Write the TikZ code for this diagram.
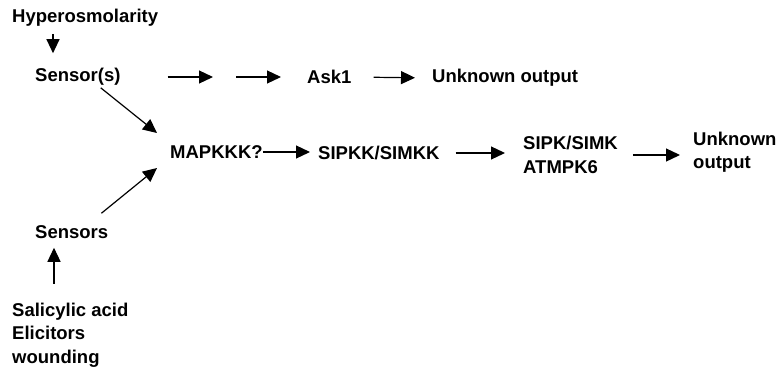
\documentclass[tikz,border=0pt]{standalone}
\usepackage{fontspec}
\setmainfont{Liberation Sans}
\usetikzlibrary{arrows.meta,calc}
\begin{document}
\begin{tikzpicture}[x=1pt,y=-1pt,
  lbl/.style={font=\bfseries\fontsize{18.5}{23.5}\selectfont, inner sep=0pt, anchor=west, align=left},
  arr/.style={line width=1.2pt, -{Triangle[length=14pt,width=13pt]}}]
\useasboundingbox (0,0) rectangle (783,375);
\fill[white] (0,0) rectangle (783,375);
% nodes
\node[lbl] (hyp) at (12,18) {Hyperosmolarity};
\node[lbl] (sen1) at (35,77) {Sensor(s)};
\node[lbl] (ask) at (307,77) {Ask1};
\node[lbl] (out1) at (432,78) {Unknown output};
\node[lbl] (map) at (170,152) {MAPKKK?};
\node[lbl] (sipkk) at (318,153) {SIPKK/SIMKK};
\node[lbl] (sipk) at (523,155) {SIPK/SIMK\\ATMPK6};
\node[lbl] (out2) at (693,152) {Unknown\\output};
\node[lbl] (sens) at (35,232) {Sensors};
\node[lbl] (sal) at (12,335) {Salicylic acid\\Elicitors\\wounding};
\coordinate (c1) at (213,77);
\coordinate (c2) at (236,77);
% connectors
\draw[arr] ($(hyp.south west)+(41,7)$) -- ($(sen1.north west)+(18,-15)$);
\draw[arr, shorten <=47pt] (sen1.east) -- (c1);
\draw[arr, shorten >=26pt] (c2) -- (ask.west);
\draw[arr, shorten <=22pt, shorten >=17pt] (ask.east) -- (out1.west);
\draw[arr] ($(sen1.south east)+(-20,2)$) -- ($(map.west)+(-13,-19)$);
\draw[arr] ($(sens.north east)+(-7,-12)$) -- ($(map.west)+(-13,16)$);
\draw[arr, shorten <=10pt] (sal.north west -| 54,0) ++(0,-9) -- ($(sens.south west -| 54,0)+(0,9)$);
\draw[arr, shorten >=8pt] (map.east) -- (map.east -| sipkk.west);
\draw[arr, shorten <=16pt, shorten >=18pt] (sipkk.east) -- (sipkk.east -| sipk.west);
\draw[arr, shorten <=15pt, shorten >=13pt] (sipk.east) -- (sipk.east -| out2.west);
\end{tikzpicture}
\end{document}
